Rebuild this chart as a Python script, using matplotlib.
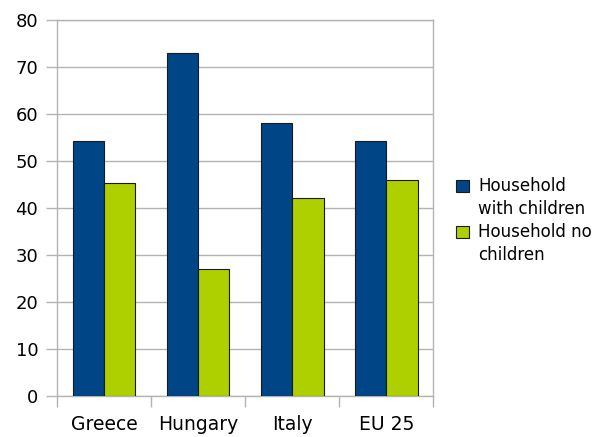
import matplotlib
matplotlib.use("Agg")
import matplotlib.pyplot as plt
from matplotlib.patches import Patch
import numpy as np

categories = ["Greece", "Hungary", "Italy", "EU 25"]
with_children = [54.2, 73.0, 58.0, 54.2]
no_children = [45.2, 27.0, 42.0, 46.0]
series_labels = ["Household\nwith children", "Household no\nchildren"]
yticks = [0, 10, 20, 30, 40, 50, 60, 70, 80]

blue = "#004586"
green = "#aecf00"
gray = "#b3b3b3"

plt.rcParams['font.family'] = ['DejaVu Sans']
fig = plt.figure(figsize=(6.10, 4.37), dpi=100)
ax = fig.add_axes([0.0934, 0.0945, 0.6169, 0.8604])

x = np.arange(len(categories))
w = 1/3
ax.bar(x - w/2, with_children, w, color=blue, edgecolor="#1a1a1a", linewidth=0.8, zorder=3)
ax.bar(x + w/2, no_children, w, color=green, edgecolor="#1a1a1a", linewidth=0.8, zorder=3)

ax.set_xlim(-0.5, len(categories) - 0.5)
ax.set_ylim(0, 80)
ax.set_yticks(yticks)
ax.set_yticklabels([str(v) for v in yticks])
ax.set_xticks(x)
ax.set_xticklabels(categories)
ax.set_xticks(np.arange(len(categories) + 1) - 0.5, minor=True)

ax.grid(axis='y', color=gray, linewidth=1, zorder=0)
for s in ax.spines.values():
    s.set_color(gray)
    s.set_linewidth(1)

ax.tick_params(axis='y', direction='out', length=8, width=1, color=gray, pad=5.5, labelsize=13, labelcolor='black')
ax.tick_params(axis='x', which='major', length=0, pad=14, labelsize=13.5, labelcolor='black')
ax.tick_params(axis='x', which='minor', direction='out', length=8, width=1, color=gray)

handles = [Patch(facecolor=blue, edgecolor="#1a1a1a", linewidth=0.8),
           Patch(facecolor='none', edgecolor='none'),
           Patch(facecolor=green, edgecolor="#1a1a1a", linewidth=0.8),
           Patch(facecolor='none', edgecolor='none')]
labels = series_labels[0].split("\n") + series_labels[1].split("\n")
fig.legend(handles, labels, loc='upper left', bbox_to_anchor=(0.748, 0.594),
           frameon=False, fontsize=12, handlelength=0.75, handleheight=0.75,
           handletextpad=0.55, labelspacing=0.3, borderaxespad=0, borderpad=0)

fig.savefig("out.png", dpi=100)
